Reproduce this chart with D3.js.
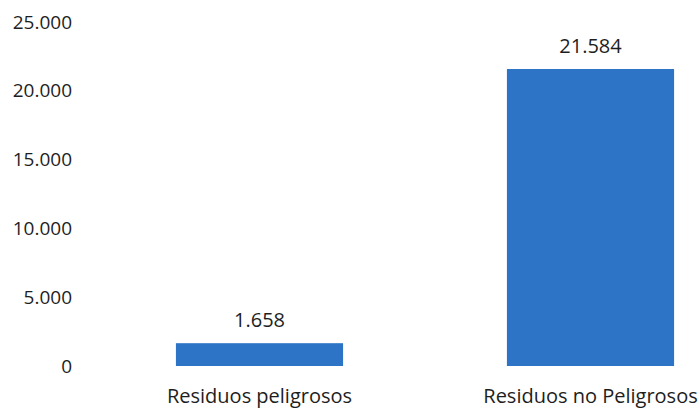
<!DOCTYPE html>
<html><head><meta charset="utf-8">
<script src="https://cdn.jsdelivr.net/npm/d3@7"></script>
<style>body{margin:0;background:#fff}svg{display:block}</style>
</head><body>
<svg id="c" width="699" height="409"></svg>
<script>
const categories = ["Residuos peligrosos", "Residuos no Peligrosos"];
const values = [1658, 21584];
const valueLabels = ["1.658", "21.584"];
const tickValues = [0, 5000, 10000, 15000, 20000, 25000];
const tickLabels = ["0", "5.000", "10.000", "15.000", "20.000", "25.000"];

const svg = d3.select("#c");
const font = "'Open Sans', sans-serif";
const y = d3.scaleLinear().domain([0, 25000]).range([366, 22]);
const x = d3.scaleBand().domain(categories).range([94, 756]).paddingInner(0.495).paddingOuter(0.2475);

const yAxis = d3.axisLeft(y).tickValues(tickValues).tickFormat((d, i) => tickLabels[i]).tickSize(0).tickPadding(0);
const ga = svg.append("g").attr("transform", "translate(72,0)").call(yAxis);
ga.select(".domain").remove();
ga.selectAll("text").attr("font-family", font).attr("font-size", 19).attr("fill", "#1e1e1e");

svg.selectAll("rect.bar").data(values).join("rect").attr("class", "bar")
  .attr("x", (d, i) => x(categories[i]))
  .attr("width", x.bandwidth())
  .attr("y", d => y(d))
  .attr("height", d => y(0) - y(d))
  .attr("fill", "#2e74c6");

svg.selectAll("text.vl").data(values).join("text").attr("class", "vl")
  .attr("x", (d, i) => x(categories[i]) + x.bandwidth() / 2)
  .attr("y", d => y(d) - 16)
  .attr("text-anchor", "middle")
  .attr("font-family", font).attr("font-size", 20).attr("fill", "#1e1e1e")
  .text((d, i) => valueLabels[i]);

const xAxis = d3.axisBottom(x).tickSize(0).tickPadding(0);
const gx = svg.append("g").attr("transform", "translate(0,389)").call(xAxis);
gx.select(".domain").remove();
gx.selectAll("text").attr("font-family", font).attr("font-size", 20).attr("fill", "#1e1e1e").attr("dy", "0.71em");
</script>
</body></html>
